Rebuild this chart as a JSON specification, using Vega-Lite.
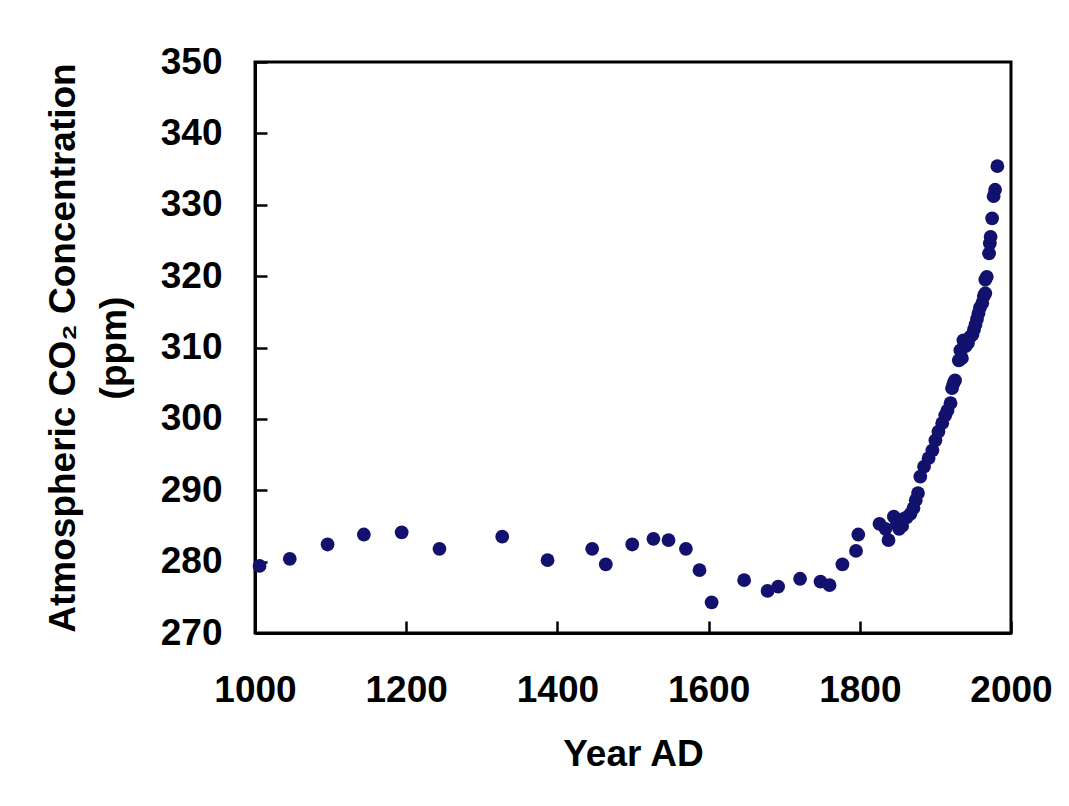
{
  "$schema": "https://vega.github.io/schema/vega-lite/v6.json",
  "autosize": "none",
  "width": 756,
  "height": 571,
  "padding": {"left": 255, "top": 62, "right": 58, "bottom": 173},
  "background": "white",
  "data": {
    "values": [
      {"year": 1006, "co2": 279.4},
      {"year": 1046, "co2": 280.4},
      {"year": 1096, "co2": 282.4},
      {"year": 1144, "co2": 283.8},
      {"year": 1194, "co2": 284.1},
      {"year": 1244, "co2": 281.8},
      {"year": 1327, "co2": 283.5},
      {"year": 1387, "co2": 280.2},
      {"year": 1446, "co2": 281.8},
      {"year": 1464, "co2": 279.6},
      {"year": 1499, "co2": 282.4},
      {"year": 1527, "co2": 283.2},
      {"year": 1547, "co2": 283.0},
      {"year": 1570, "co2": 281.8},
      {"year": 1588, "co2": 278.8},
      {"year": 1604, "co2": 274.3},
      {"year": 1647, "co2": 277.4},
      {"year": 1678, "co2": 275.9},
      {"year": 1692, "co2": 276.5},
      {"year": 1721, "co2": 277.6},
      {"year": 1748, "co2": 277.2},
      {"year": 1760, "co2": 276.7},
      {"year": 1777, "co2": 279.6},
      {"year": 1795, "co2": 281.5},
      {"year": 1798, "co2": 283.8},
      {"year": 1826, "co2": 285.3},
      {"year": 1834, "co2": 284.6},
      {"year": 1838, "co2": 283.0},
      {"year": 1845, "co2": 286.3},
      {"year": 1849, "co2": 285.3},
      {"year": 1852, "co2": 284.6},
      {"year": 1856, "co2": 285.0},
      {"year": 1858, "co2": 286.0},
      {"year": 1862, "co2": 286.2},
      {"year": 1867, "co2": 286.7},
      {"year": 1871, "co2": 287.5},
      {"year": 1874, "co2": 288.6},
      {"year": 1877, "co2": 289.6},
      {"year": 1880, "co2": 291.9},
      {"year": 1885, "co2": 293.3},
      {"year": 1891, "co2": 294.5},
      {"year": 1896, "co2": 295.6},
      {"year": 1900, "co2": 297.0},
      {"year": 1904, "co2": 298.2},
      {"year": 1909, "co2": 299.4},
      {"year": 1913, "co2": 300.5},
      {"year": 1916, "co2": 301.2},
      {"year": 1920, "co2": 302.2},
      {"year": 1922, "co2": 304.3},
      {"year": 1924, "co2": 305.0},
      {"year": 1926, "co2": 305.4},
      {"year": 1931, "co2": 308.2},
      {"year": 1933, "co2": 309.6},
      {"year": 1935, "co2": 308.5},
      {"year": 1937, "co2": 311.0},
      {"year": 1940, "co2": 310.2},
      {"year": 1943, "co2": 310.6},
      {"year": 1946, "co2": 311.5},
      {"year": 1949, "co2": 311.8},
      {"year": 1951, "co2": 312.5},
      {"year": 1953, "co2": 313.2},
      {"year": 1955, "co2": 314.0},
      {"year": 1957, "co2": 314.8},
      {"year": 1959, "co2": 315.6},
      {"year": 1962, "co2": 316.2},
      {"year": 1964, "co2": 317.2},
      {"year": 1966, "co2": 317.6},
      {"year": 1966, "co2": 319.5},
      {"year": 1968, "co2": 319.9},
      {"year": 1971, "co2": 323.2},
      {"year": 1972, "co2": 324.6},
      {"year": 1973, "co2": 325.5},
      {"year": 1975, "co2": 328.1},
      {"year": 1977, "co2": 331.2},
      {"year": 1979, "co2": 332.1},
      {"year": 1982, "co2": 335.4}
    ]
  },
  "mark": {"type": "point", "filled": true, "shape": "circle", "size": 190, "color": "#12126e", "opacity": 1},
  "encoding": {
    "x": {
      "field": "year",
      "type": "quantitative",
      "scale": {"domain": [1000, 2000], "nice": false, "zero": false},
      "axis": {
        "values": [1000, 1200, 1400, 1600, 1800, 2000],
        "format": "d",
        "title": "Year AD",
        "labelPadding": 51,
        "titlePadding": 28
      }
    },
    "y": {
      "field": "co2",
      "type": "quantitative",
      "scale": {"domain": [270, 350], "nice": false, "zero": false},
      "axis": {
        "values": [270, 280, 290, 300, 310, 320, 330, 340, 350],
        "format": "d",
        "title": ["Atmospheric CO₂ Concentration", "(ppm)"],
        "titleLineHeight": 51,
        "labelPadding": 45,
        "titlePadding": 27
      }
    }
  },
  "config": {
    "view": {"stroke": "black", "strokeWidth": 3},
    "axis": {
      "grid": false,
      "domainColor": "black",
      "domainWidth": 3,
      "tickColor": "black",
      "tickWidth": 2.5,
      "tickSize": -12,
      "labelFont": "Liberation Sans",
      "labelFontWeight": "bold",
      "labelFontSize": 37,
      "labelColor": "black",
      "labelOverlap": false,
      "labelFlush": false,
      "titleFont": "Liberation Sans",
      "titleFontWeight": "bold",
      "titleFontSize": 37,
      "titleColor": "black"
    }
  }
}
